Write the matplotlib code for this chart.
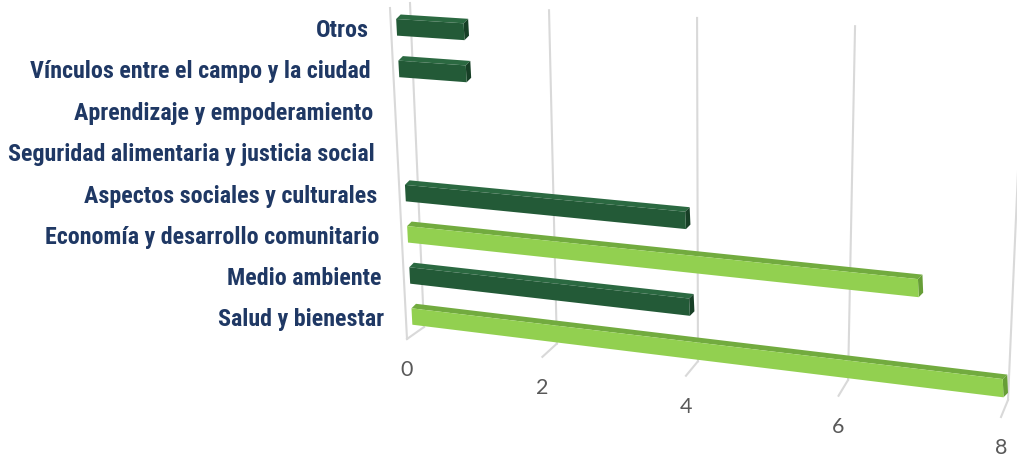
import numpy as np
import matplotlib
matplotlib.use('Agg')
import matplotlib.pyplot as plt
from matplotlib.patches import Polygon
from matplotlib.transforms import Transform, Affine2D

# datos (de abajo hacia arriba)
categorias = ['Salud y bienestar', 'Medio ambiente', 'Economía y desarrollo comunitario',
              'Aspectos sociales y culturales', 'Seguridad alimentaria y justicia social',
              'Aprendizaje y empoderamiento', 'Vínculos entre el campo y la ciudad', 'Otros']
valores = [8, 4, 7, 4, 0, 0, 1, 1]
marcas = [0, 2, 4, 6, 8]

# estilo de cada barra
tono = ['claro', 'oscuro', 'claro', 'oscuro', 'oscuro', 'oscuro', 'oscuro', 'oscuro']
paleta = {
    'claro': {'frente': '#92D050', 'arriba': '#72AB3F', 'lado': '#679E37'},
    'oscuro': {'frente': '#235A37', 'arriba': '#2B6941', 'lado': '#173F26'},
}
GRIS = '#D9D9D9'
FUENTE = ['Noto Sans ExtraCondensed', 'Noto Sans Condensed', 'Roboto Condensed',
          'Liberation Sans Narrow', 'DejaVu Sans Condensed', 'DejaVu Sans']


def homografia(src, dst):
    A, b = [], []
    for (x, y), (u, v) in zip(src, dst):
        A.append([x, y, 1, 0, 0, 0, -u * x, -u * y])
        b.append(u)
        A.append([0, 0, 0, x, y, 1, -v * x, -v * y])
        b.append(v)
    h = np.linalg.solve(np.array(A, float), np.array(b, float))
    return np.append(h, 1).reshape(3, 3)


class Perspectiva(Transform):
    input_dims = 2
    output_dims = 2

    def __init__(self, src, dst):
        super().__init__()
        self.m = homografia(src, dst)

    def transform_non_affine(self, values):
        v = np.asarray(values, float).reshape(-1, 2)
        p = np.column_stack([v, np.ones(len(v))]) @ self.m.T
        return p[:, :2] / p[:, 2:3]


fig = plt.figure(figsize=(10.17, 4.55), dpi=100)
ax = fig.add_axes([0, 0, 1, 1])
ax.set_xlim(0, 1017)
ax.set_ylim(455, 0)
ax.axis('off')

# planos de la caja 3D (en pixeles)
barras = Perspectiva([(0, -0.5), (8, -0.5), (0, 7.5), (8, 7.5)],
                     [(413, 337), (1004, 411), (395.5, 6.5), (990, 43)])
pared = Perspectiva([(0, 0), (8, 0), (0, 1), (8, 1)],
                    [(424, 327), (1008, 400), (410, 3), (1024, 35)])
# profundidad del suelo (fondo -> frente) en los extremos del eje
suelo_ini = np.array([-17, 12])
suelo_fin = np.array([-7, 17])
vmax = marcas[-1]

# rejilla
for t in marcas:
    ax.plot([t, t], [0, 1], color=GRIS, lw=1.5, transform=pared + ax.transData, zorder=1)
    base = pared.transform(np.array([(t, 0)]))[0]
    frente = base + suelo_ini + (suelo_fin - suelo_ini) * t / vmax
    ax.plot([base[0], frente[0]], [base[1], frente[1]], color=GRIS, lw=1.5, zorder=1)
    ax.text(frente[0], frente[1] + 31, str(t), ha='center', va='center',
            fontsize=15.5, color='#595959', family='Lato')
    if t == 0:
        # arista lateral
        ax.plot([frente[0], 390], [frente[1], 8], color=GRIS, lw=1.5, zorder=1)

# barras
medio = 0.2
dx, dy = 4.5, -4.5
for i, (cat, val) in enumerate(zip(categorias, valores)):
    ax.text(0, i, cat, transform=barras + Affine2D().translate(-28, 3) + ax.transData,
            ha='right', va='center', fontsize=17.3, fontweight='bold', color='#1F3864',
            family=FUENTE, fontstretch='condensed')
    if val == 0:
        continue
    c = paleta[tono[i]]
    frente = barras.transform(np.array([(0, i - medio), (val, i - medio),
                                        (val, i + medio), (0, i + medio)]))
    atras = frente + np.array([dx, dy])
    arriba = [frente[3], frente[2], atras[2], atras[3]]
    lado = [frente[1], frente[2], atras[2], atras[1]]
    ax.add_patch(Polygon(arriba, closed=True, facecolor=c['arriba'], edgecolor='none', zorder=2))
    ax.add_patch(Polygon(lado, closed=True, facecolor=c['lado'], edgecolor='none', zorder=2))
    ax.add_patch(Polygon(frente, closed=True, facecolor=c['frente'], edgecolor='none', zorder=3))

fig.savefig('out.png', dpi=100)
